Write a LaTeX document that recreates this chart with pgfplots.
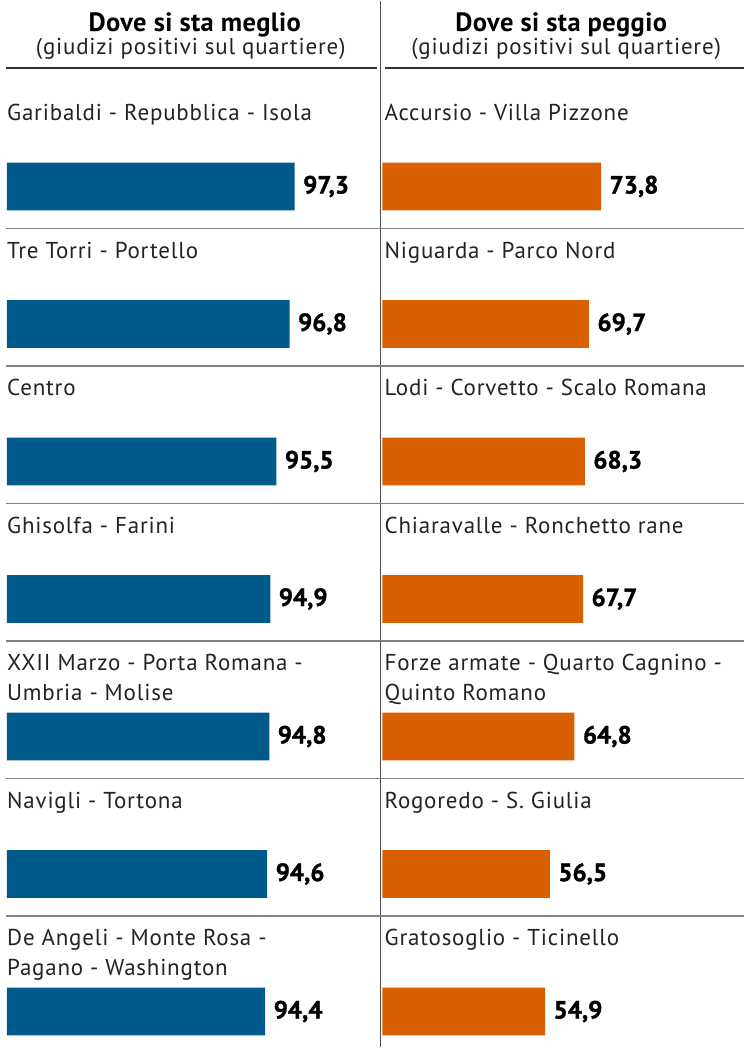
\documentclass[border=0pt]{standalone}
\usepackage{pgfplots}
\pgfplotsset{compat=1.18}
\usepackage{pgfplotstable}
\usepackage{fontspec}
\setmainfont{PT Sans}
\newfontfamily\labfont{PT Sans}[LetterSpace=3.5]
\newfontfamily\titfont{PT Sans}[LetterSpace=1.5]
\newfontfamily\valfont{PT Sans}[BoldFeatures={FakeBold=1.3}]
\definecolor{barblue}{RGB}{0,90,140}
\definecolor{barorange}{RGB}{217,95,0}
\definecolor{txt}{RGB}{35,35,35}
\definecolor{sep}{RGB}{130,130,130}

% y = vertical position of the bar (picture units), v = value
\pgfplotstableread{
y v
862.0 97.3
724.3 96.8
586.6 95.5
448.9 94.9
311.2 94.8
173.5 94.6
35.8 94.4
}\leftdata
\pgfplotstableread{
y v
862.0 73.8
724.3 69.7
586.6 68.3
448.9 67.7
311.2 64.8
173.5 56.5
35.8 54.9
}\rightdata

\pgfplotsset{
  panel/.style={
    hide axis, y=1pt, ymin=0, ymax=1048,
    xbar, bar width=48, bar shift=0pt,
    point meta=x,
    nodes near coords={\pgfmathprintnumber[fixed,fixed zerofill,precision=1,use comma,assume math mode=true]{\pgfplotspointmeta}},
    every node near coord/.append style={anchor=west, xshift=5pt, text=black,
      font=\valfont\fontsize{25}{27}\selectfont\bfseries},
  }
}

\newcommand{\lab}{\labfont\fontsize{23}{25}\selectfont}

\begin{document}
\begin{tikzpicture}[x=1pt,y=1pt]
\fill[white] (0,0) rectangle (745,1048);

\begin{axis}[panel, at={(7pt,0pt)}, anchor=south west, x=10.18pt, xmin=69, xmax=105.6]
\addplot[fill=barblue, draw=none] table[x=v, y=y] {\leftdata};
\end{axis}

\begin{axis}[panel, at={(383pt,0pt)}, anchor=south west, x=2.967pt, xmin=0, xmax=122]
\addplot[fill=barorange, draw=none] table[x=v, y=y] {\rightdata};
\end{axis}

% frame lines
\draw[line width=1.5pt, color=black!70] (381,0) -- (381,1048);
\draw[line width=2.2pt, color=black!80] (6,981) -- (378,981);
\draw[line width=2.2pt, color=black!80] (386,981) -- (745,981);
\foreach \yy in {820,682.3,544.6,406.9,269.2,131.5}
  \draw[line width=1.2pt, color=sep] (6,\yy) -- (745,\yy);

% titles
\node[anchor=base, font=\titfont\fontsize{26.5}{28}\selectfont\bfseries] at (195,1017) {Dove si sta meglio};
\node[anchor=base, font=\lab, text=txt] at (191,994) {(giudizi positivi sul quartiere)};
\node[anchor=base, font=\titfont\fontsize{26.5}{28}\selectfont\bfseries] at (562,1017) {Dove si sta peggio};
\node[anchor=base, font=\lab, text=txt] at (567,994) {(giudizi positivi sul quartiere)};

% left labels
\begin{scope}[every node/.style={anchor=base west, inner sep=0pt, font=\lab, text=txt}]
\node at (7,928) {Garibaldi - Repubblica - Isola};
\node at (7,790.3) {Tre Torri - Portello};
\node at (7,652.6) {Centro};
\node at (7,514.9) {Ghisolfa - Farini};
\node at (7,377.2) {XXII Marzo - Porta Romana -};
\node at (7,347.2) {Umbria - Molise};
\node at (7,239.5) {Navigli - Tortona};
\node at (7,101.8) {De Angeli - Monte Rosa -};
\node at (7,71.8) {Pagano - Washington};
% right labels
\node at (385,928) {Accursio - Villa Pizzone};
\node at (385,790.3) {Niguarda - Parco Nord};
\node at (385,652.6) {Lodi - Corvetto - Scalo Romana};
\node at (385,514.9) {Chiaravalle - Ronchetto rane};
\node at (385,377.2) {Forze armate - Quarto Cagnino -};
\node at (385,347.2) {Quinto Romano};
\node at (385,239.5) {Rogoredo - S. Giulia};
\node at (385,101.8) {Gratosoglio - Ticinello};
\end{scope}
\end{tikzpicture}
\end{document}
